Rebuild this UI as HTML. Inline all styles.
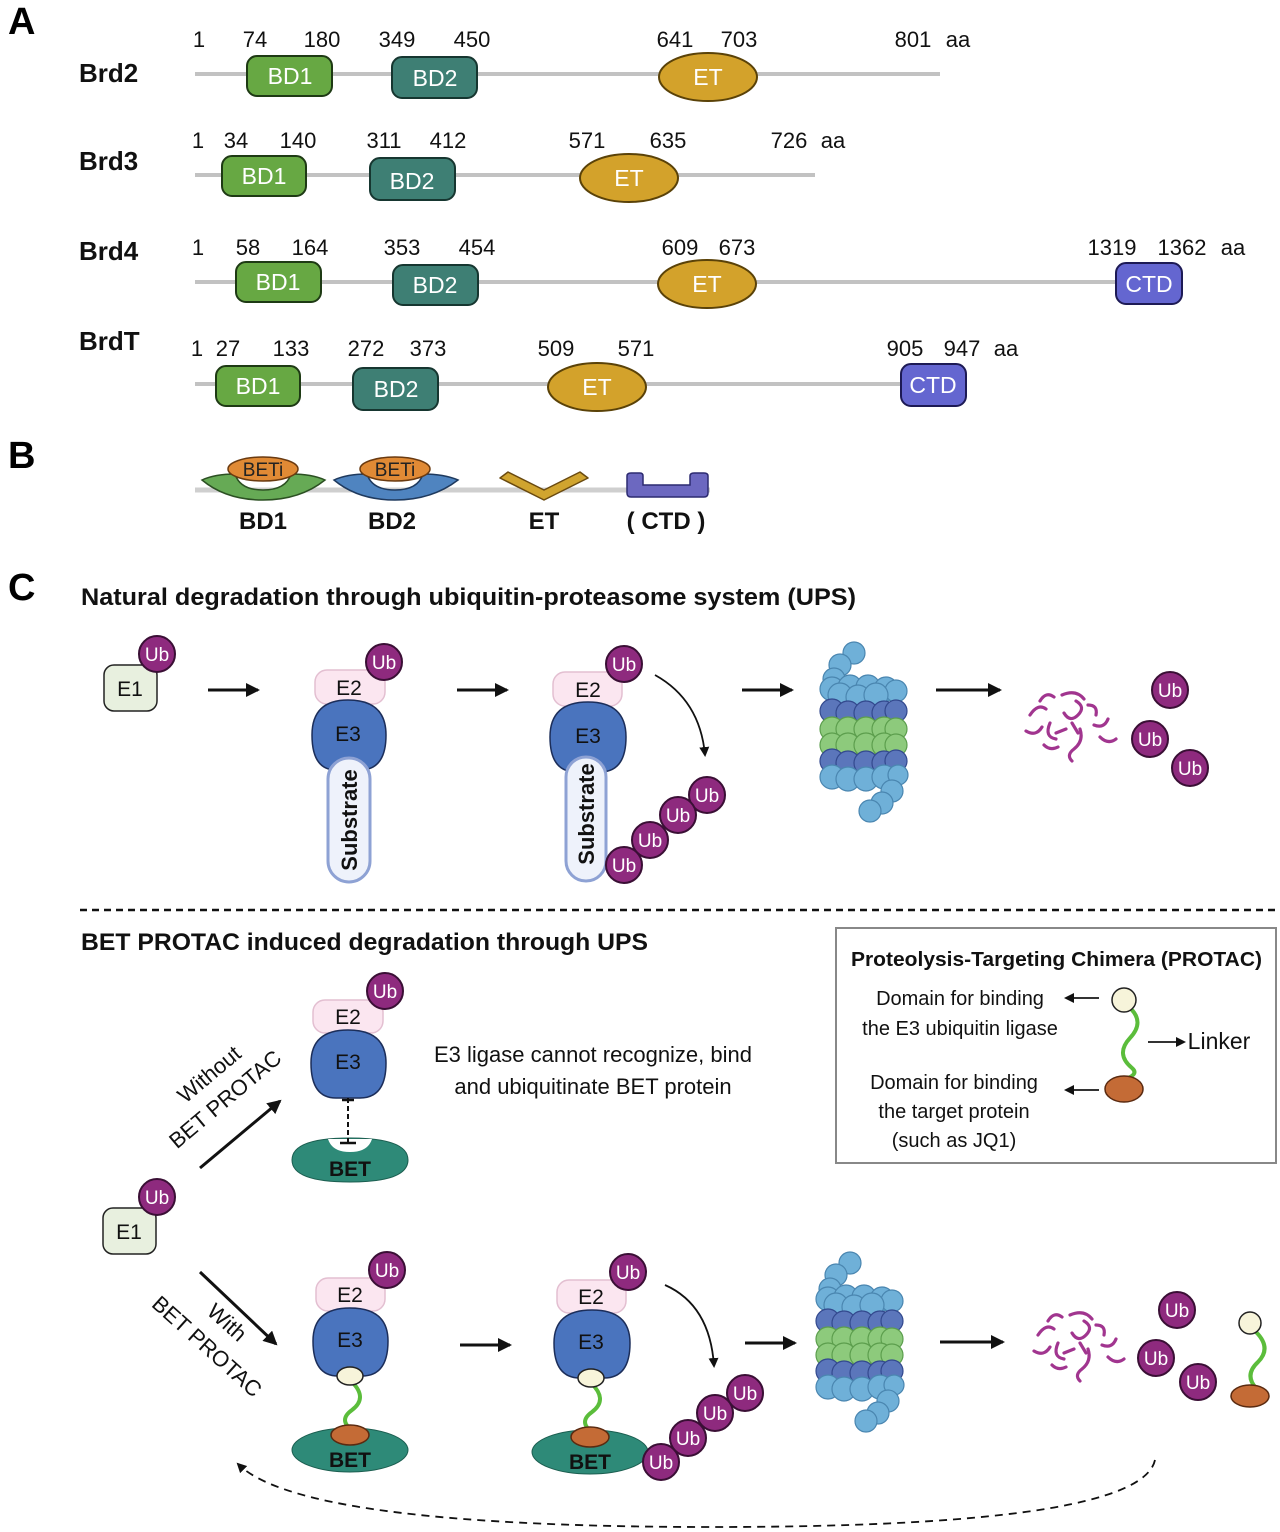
<!DOCTYPE html>
<html><head><meta charset="utf-8"><style>
html,body{margin:0;padding:0;background:#fff;}
svg{display:block;font-family:"Liberation Sans",Arial,sans-serif;}
.n{font-size:22px;fill:#111;}
.lab{font-size:26px;font-weight:bold;fill:#111;}
.dt{font-size:23px;fill:#fff;text-anchor:middle;}
.ub{font-size:19px;fill:#fff;text-anchor:middle;}
.e{font-size:21px;fill:#111;text-anchor:middle;}
</style></head><body>
<svg width="1280" height="1532" viewBox="0 0 1280 1532" xmlns="http://www.w3.org/2000/svg">
<defs>
<marker id="ah" markerWidth="10" markerHeight="10" refX="8" refY="5" orient="auto" markerUnits="userSpaceOnUse"><path d="M0,0 L10,5 L0,10 Z" fill="#111"/></marker>
<marker id="ah2" markerWidth="14" markerHeight="14" refX="12" refY="7" orient="auto" markerUnits="userSpaceOnUse"><path d="M0,0 L14,7 L0,14 Z" fill="#111"/></marker>
<g id="prot">
 <g fill="#6fb0d8" stroke="#4a86b0" stroke-width="1.2">
  <circle cx="-8" cy="10" r="11"/><circle cx="-22" cy="22" r="11"/><circle cx="-28" cy="36" r="11"/>
  <circle cx="-30" cy="46" r="12"/><circle cx="-12" cy="44" r="12"/><circle cx="6" cy="44" r="12"/><circle cx="24" cy="46" r="12"/><circle cx="34" cy="48" r="11"/>
  <circle cx="-22" cy="52" r="12"/><circle cx="-4" cy="54" r="12"/><circle cx="14" cy="52" r="12"/>
 </g>
 <g fill="#5b76bb" stroke="#33498e" stroke-width="1.2">
  <circle cx="-30" cy="68" r="12"/><circle cx="-14" cy="70" r="12"/><circle cx="4" cy="70" r="12"/><circle cx="22" cy="70" r="12"/><circle cx="34" cy="68" r="11"/>
 </g>
 <g fill="#8dca7c" stroke="#5c9e4d" stroke-width="1.2">
  <circle cx="-30" cy="86" r="12"/><circle cx="-14" cy="86" r="12"/><circle cx="4" cy="86" r="12"/><circle cx="22" cy="86" r="12"/><circle cx="34" cy="86" r="11"/>
  <circle cx="-30" cy="102" r="12"/><circle cx="-14" cy="102" r="12"/><circle cx="4" cy="102" r="12"/><circle cx="22" cy="102" r="12"/><circle cx="34" cy="102" r="11"/>
 </g>
 <g fill="#5b76bb" stroke="#33498e" stroke-width="1.2">
  <circle cx="-30" cy="118" r="12"/><circle cx="-14" cy="120" r="12"/><circle cx="4" cy="120" r="12"/><circle cx="22" cy="120" r="12"/><circle cx="34" cy="118" r="11"/>
 </g>
 <g fill="#6fb0d8" stroke="#4a86b0" stroke-width="1.2">
  <circle cx="-30" cy="134" r="12"/><circle cx="-14" cy="136" r="12"/><circle cx="4" cy="136" r="12"/><circle cx="22" cy="134" r="12"/><circle cx="36" cy="132" r="10"/>
  <circle cx="30" cy="148" r="11"/><circle cx="20" cy="160" r="11"/><circle cx="8" cy="168" r="11"/>
 </g>
</g>
<g id="frag" fill="none" stroke="#a1358f" stroke-width="3.2" stroke-linecap="round">
 <path d="M-40,-10 q8,-12 16,-6"/><path d="M-44,6 q10,6 16,-4"/><path d="M-30,-24 q6,-10 14,-4"/>
 <path d="M-20,-2 q-6,14 6,16"/><path d="M-8,-30 q14,-6 22,4"/><path d="M-6,-12 q6,10 14,2 q8,-8 -2,-14"/>
 <path d="M10,4 q4,12 -6,20 q-8,6 -2,12"/><path d="M18,-20 q10,0 8,10"/><path d="M24,0 q10,4 14,-6"/>
 <path d="M30,12 q8,8 16,2"/><path d="M-26,20 q6,6 14,2"/><path d="M2,-2 l6,10"/><path d="M-14,8 l10,-4"/>
</g>
</defs>

<text x="8" y="34" font-size="38" font-weight="bold">A</text>
<text x="8" y="468" font-size="38" font-weight="bold">B</text>
<text x="8" y="600" font-size="38" font-weight="bold">C</text>

<g stroke="#c2c2c2" stroke-width="4">
 <line x1="195" y1="74" x2="940" y2="74"/>
 <line x1="195" y1="175" x2="815" y2="175"/>
 <line x1="195" y1="282" x2="1182" y2="282"/>
 <line x1="195" y1="384" x2="905" y2="384"/>
</g>
<text class="lab" x="79" y="82">Brd2</text>
<text class="lab" x="79" y="170">Brd3</text>
<text class="lab" x="79" y="260">Brd4</text>
<text class="lab" x="79" y="350">BrdT</text>

<g class="n" text-anchor="middle">
 <text x="199" y="47">1</text><text x="255" y="47">74</text><text x="322" y="47">180</text><text x="397" y="47">349</text><text x="472" y="47">450</text><text x="675" y="47">641</text><text x="739" y="47">703</text><text x="913" y="47">801</text><text x="958" y="47">aa</text>
 <text x="198" y="148">1</text><text x="236" y="148">34</text><text x="298" y="148">140</text><text x="384" y="148">311</text><text x="448" y="148">412</text><text x="587" y="148">571</text><text x="668" y="148">635</text><text x="789" y="148">726</text><text x="833" y="148">aa</text>
 <text x="198" y="255">1</text><text x="248" y="255">58</text><text x="310" y="255">164</text><text x="402" y="255">353</text><text x="477" y="255">454</text><text x="680" y="255">609</text><text x="737" y="255">673</text><text x="1112" y="255">1319</text><text x="1182" y="255">1362</text><text x="1233" y="255">aa</text>
 <text x="197" y="356">1</text><text x="228" y="356">27</text><text x="291" y="356">133</text><text x="366" y="356">272</text><text x="428" y="356">373</text><text x="556" y="356">509</text><text x="636" y="356">571</text><text x="905" y="356">905</text><text x="962" y="356">947</text><text x="1006" y="356">aa</text>
</g>

<g stroke="#1e3a14" stroke-width="2">
 <rect x="247" y="56" width="85" height="40" rx="10" fill="#67a843"/>
 <rect x="222" y="156" width="84" height="40" rx="10" fill="#67a843"/>
 <rect x="236" y="262" width="85" height="40" rx="10" fill="#67a843"/>
 <rect x="216" y="366" width="84" height="40" rx="10" fill="#67a843"/>
</g>
<g stroke="#163630" stroke-width="2" fill="#3e7f74">
 <rect x="392" y="57" width="85" height="41" rx="10"/>
 <rect x="370" y="158" width="85" height="42" rx="10"/>
 <rect x="393" y="265" width="85" height="40" rx="10"/>
 <rect x="353" y="368" width="85" height="42" rx="10"/>
</g>
<g stroke="#5a4208" stroke-width="2" fill="#d3a22b">
 <ellipse cx="708" cy="77" rx="49" ry="24"/>
 <ellipse cx="629" cy="178" rx="49" ry="24"/>
 <ellipse cx="707" cy="284" rx="49" ry="24"/>
 <ellipse cx="597" cy="387" rx="49" ry="24"/>
</g>
<g stroke="#1d1a55" stroke-width="2" fill="#6466d0">
 <rect x="1116" y="263" width="66" height="41" rx="10"/>
 <rect x="901" y="364" width="65" height="42" rx="10"/>
</g>
<g class="dt">
 <text x="290" y="84">BD1</text><text x="435" y="86">BD2</text><text x="708" y="85">ET</text>
 <text x="264" y="184">BD1</text><text x="412" y="189">BD2</text><text x="629" y="186">ET</text>
 <text x="278" y="290">BD1</text><text x="435" y="293">BD2</text><text x="707" y="292">ET</text><text x="1149" y="292">CTD</text>
 <text x="258" y="394">BD1</text><text x="396" y="397">BD2</text><text x="597" y="395">ET</text><text x="933" y="393">CTD</text>
</g>

<line x1="195" y1="490" x2="710" y2="490" stroke="#cfcfcf" stroke-width="5"/>
<path d="M202,480 Q215,474 235,474 Q240,490 263,490 Q286,490 291,474 Q312,474 325,480 Q300,500 263,500 Q226,500 202,480 Z" fill="#66aa55" stroke="#2c5023" stroke-width="1.5"/>
<ellipse cx="263" cy="469" rx="35" ry="12" fill="#e08a35" stroke="#6a3a10" stroke-width="1.5"/>
<text x="263" y="476" font-size="19" text-anchor="middle" fill="#222">BETi</text>
<path d="M334,480 Q347,474 367,474 Q372,490 395,490 Q418,490 423,474 Q444,474 458,480 Q432,500 395,500 Q358,500 334,480 Z" fill="#4f84c0" stroke="#1f3a5e" stroke-width="1.5"/>
<ellipse cx="395" cy="469" rx="35" ry="12" fill="#e08a35" stroke="#6a3a10" stroke-width="1.5"/>
<text x="395" y="476" font-size="19" text-anchor="middle" fill="#222">BETi</text>
<path d="M500,478 L508,472 L544,490 L580,472 L588,478 L544,500 Z" fill="#d0a42f" stroke="#6a4a10" stroke-width="1.5" stroke-linejoin="round"/>
<path d="M627,476 Q627,473 631,473 L640,473 Q643,473 643,476 L643,485 L690,485 L690,476 Q690,473 694,473 L704,473 Q708,473 708,476 L708,493 Q708,497 704,497 L631,497 Q627,497 627,493 Z" fill="#6c68c0" stroke="#2c2a70" stroke-width="1.5"/>
<g font-size="24" font-weight="bold" text-anchor="middle" fill="#111">
 <text x="263" y="529">BD1</text><text x="392" y="529">BD2</text><text x="544" y="529">ET</text><text x="666" y="529">( CTD )</text>
</g>

<text x="81" y="605" font-size="24" font-weight="bold" fill="#111" textLength="775" lengthAdjust="spacingAndGlyphs">Natural degradation through ubiquitin-proteasome system (UPS)</text>
<rect x="104" y="665" width="53" height="46" rx="10" fill="#e8f0df" stroke="#222" stroke-width="1.5"/>
<text class="e" x="130" y="696">E1</text>
<circle cx="157" cy="654" r="18" fill="#8e2a7e" stroke="#3a0f35" stroke-width="2"/><text class="ub" x="157" y="661">Ub</text>
<g stroke="#111" stroke-width="3" marker-end="url(#ah2)">
 <line x1="208" y1="690" x2="258" y2="690"/><line x1="457" y1="690" x2="507" y2="690"/>
 <line x1="742" y1="690" x2="792" y2="690"/><line x1="936" y1="690" x2="1000" y2="690"/>
</g>
<rect x="315" y="670" width="70" height="34" rx="12" fill="#fbe6f0" stroke="#e3bfd1" stroke-width="1.5"/>
<text class="e" x="349" y="695">E2</text>
<path d="M312,735 Q312,700 348,700 Q386,700 386,735 Q386,770 360,770 L336,770 Q312,770 312,735 Z" fill="#4a74be" stroke="#1c2e5a" stroke-width="1.5"/>
<text class="e" x="348" y="741">E3</text>
<rect x="328" y="758" width="42" height="124" rx="21" fill="#eef2fb" stroke="#8ea2d4" stroke-width="3"/>
<text x="0" y="0" font-size="22" font-weight="bold" fill="#111" text-anchor="middle" transform="translate(357,820) rotate(-90)">Substrate</text>
<circle cx="384" cy="662" r="18" fill="#8e2a7e" stroke="#3a0f35" stroke-width="2"/><text class="ub" x="384" y="669">Ub</text>
<rect x="553" y="672" width="69" height="34" rx="12" fill="#fbe6f0" stroke="#e3bfd1" stroke-width="1.5"/>
<text class="e" x="588" y="697">E2</text>
<path d="M550,737 Q550,702 588,702 Q626,702 626,737 Q626,772 600,772 L576,772 Q550,772 550,737 Z" fill="#4a74be" stroke="#1c2e5a" stroke-width="1.5"/>
<text class="e" x="588" y="743">E3</text>
<rect x="566" y="757" width="40" height="124" rx="20" fill="#eef2fb" stroke="#8ea2d4" stroke-width="3"/>
<text x="0" y="0" font-size="22" font-weight="bold" fill="#111" text-anchor="middle" transform="translate(594,814) rotate(-90)">Substrate</text>
<circle cx="624" cy="664" r="18" fill="#8e2a7e" stroke="#3a0f35" stroke-width="2"/><text class="ub" x="624" y="671">Ub</text>
<path d="M655,675 Q700,700 705,755" fill="none" stroke="#111" stroke-width="1.8" marker-end="url(#ah)"/>
<g fill="#8e2a7e" stroke="#3a0f35" stroke-width="2">
 <circle cx="707" cy="795" r="18"/><circle cx="678" cy="815" r="18"/><circle cx="650" cy="840" r="18"/><circle cx="624" cy="865" r="18"/>
</g>
<g class="ub"><text x="707" y="802">Ub</text><text x="678" y="822">Ub</text><text x="650" y="847">Ub</text><text x="624" y="872">Ub</text></g>
<use href="#prot" x="862" y="643"/>
<use href="#frag" x="1070" y="725"/>
<g fill="#8e2a7e" stroke="#3a0f35" stroke-width="2">
 <circle cx="1170" cy="690" r="18"/><circle cx="1150" cy="739" r="18"/><circle cx="1190" cy="768" r="18"/>
</g>
<g class="ub"><text x="1170" y="697">Ub</text><text x="1150" y="746">Ub</text><text x="1190" y="775">Ub</text></g>

<line x1="80" y1="910" x2="1276" y2="910" stroke="#111" stroke-width="2.5" stroke-dasharray="7,5"/>

<text x="81" y="950" font-size="24" font-weight="bold" fill="#111" textLength="567" lengthAdjust="spacingAndGlyphs">BET PROTAC induced degradation through UPS</text>
<rect x="103" y="1208" width="53" height="46" rx="10" fill="#e8f0df" stroke="#222" stroke-width="1.5"/>
<text class="e" x="129" y="1239">E1</text>
<circle cx="157" cy="1197" r="18" fill="#8e2a7e" stroke="#3a0f35" stroke-width="2"/><text class="ub" x="157" y="1204">Ub</text>
<line x1="200" y1="1168" x2="280" y2="1101" stroke="#111" stroke-width="3" marker-end="url(#ah2)"/>
<line x1="200" y1="1272" x2="276" y2="1344" stroke="#111" stroke-width="3" marker-end="url(#ah2)"/>
<g font-size="22" fill="#111" text-anchor="middle">
 <text transform="translate(214,1080) rotate(-40)">Without</text>
 <text transform="translate(230,1105) rotate(-40)">BET PROTAC</text>
 <text transform="translate(222,1328) rotate(42)">With</text>
 <text transform="translate(202,1352) rotate(42)">BET PROTAC</text>
</g>
<rect x="313" y="1000" width="70" height="33" rx="12" fill="#fbe6f0" stroke="#e3bfd1" stroke-width="1.5"/>
<text class="e" x="348" y="1024">E2</text>
<path d="M311,1063 Q311,1030 348,1030 Q386,1030 386,1063 Q386,1098 360,1098 L336,1098 Q311,1098 311,1063 Z" fill="#4a74be" stroke="#1c2e5a" stroke-width="1.5"/>
<text class="e" x="348" y="1069">E3</text>
<circle cx="385" cy="991" r="18" fill="#8e2a7e" stroke="#3a0f35" stroke-width="2"/><text class="ub" x="385" y="998">Ub</text>
<path d="M292,1160 Q292,1138 350,1138 Q408,1138 408,1160 Q408,1182 350,1182 Q292,1182 292,1160 Z" fill="#2e8a78" stroke="#1b5e50" stroke-width="1"/>
<path d="M328,1139 Q332,1152 350,1152 Q368,1152 372,1139 Z" fill="#fff"/>
<text x="350" y="1176" font-size="21" font-weight="bold" text-anchor="middle" fill="#111">BET</text>
<line x1="348" y1="1098" x2="348" y2="1143" stroke="#111" stroke-width="2" stroke-dasharray="5,3"/>
<line x1="340" y1="1143" x2="356" y2="1143" stroke="#111" stroke-width="2.5"/>
<line x1="342" y1="1100" x2="354" y2="1100" stroke="#111" stroke-width="2.5"/>
<text x="593" y="1062" font-size="22" fill="#111" text-anchor="middle">E3 ligase cannot recognize, bind</text>
<text x="593" y="1094" font-size="22" fill="#111" text-anchor="middle">and ubiquitinate BET protein</text>

<rect x="836" y="928" width="440" height="235" fill="#fff" stroke="#888" stroke-width="2"/>
<text x="851" y="966" font-size="20" font-weight="bold" fill="#111" textLength="411" lengthAdjust="spacingAndGlyphs">Proteolysis-Targeting Chimera (PROTAC)</text>
<g font-size="20" fill="#111" text-anchor="middle">
 <text x="960" y="1005">Domain for binding</text>
 <text x="960" y="1035">the E3 ubiquitin ligase</text>
 <text x="954" y="1089">Domain for binding</text>
 <text x="954" y="1118">the target protein</text>
 <text x="954" y="1147">(such as JQ1)</text>
 <text x="1219" y="1049" font-size="23">Linker</text>
</g>
<g stroke="#333" stroke-width="2" marker-end="url(#ah)">
 <line x1="1099" y1="998" x2="1066" y2="998"/>
 <line x1="1099" y1="1090" x2="1066" y2="1090"/>
 <line x1="1148" y1="1042" x2="1184" y2="1042"/>
</g>
<path d="M1130,1008 Q1145,1022 1130,1038 Q1115,1054 1132,1068 Q1140,1075 1122,1080" fill="none" stroke="#5bbd3b" stroke-width="4"/>
<circle cx="1124" cy="1000" r="12" fill="#f7f4da" stroke="#222" stroke-width="1.5"/>
<ellipse cx="1124" cy="1089" rx="19" ry="13" fill="#c46b36" stroke="#5a2a10" stroke-width="1.5"/>

<rect x="316" y="1278" width="69" height="33" rx="12" fill="#fbe6f0" stroke="#e3bfd1" stroke-width="1.5"/>
<text class="e" x="350" y="1302">E2</text>
<path d="M313,1341 Q313,1308 350,1308 Q388,1308 388,1341 Q388,1376 362,1376 L338,1376 Q313,1376 313,1341 Z" fill="#4a74be" stroke="#1c2e5a" stroke-width="1.5"/>
<text class="e" x="350" y="1347">E3</text>
<circle cx="387" cy="1270" r="18" fill="#8e2a7e" stroke="#3a0f35" stroke-width="2"/><text class="ub" x="387" y="1277">Ub</text>
<ellipse cx="350" cy="1450" rx="58" ry="22" fill="#2e8a78" stroke="#1b5e50"/>
<path d="M352,1382 Q368,1398 352,1410 Q338,1420 352,1430" fill="none" stroke="#5bbd3b" stroke-width="4"/>
<ellipse cx="350" cy="1376" rx="13" ry="9" fill="#f7f4da" stroke="#222" stroke-width="1.5"/>
<ellipse cx="350" cy="1435" rx="19" ry="10" fill="#c46b36" stroke="#5a2a10" stroke-width="1.5"/>
<text x="350" y="1467" font-size="21" font-weight="bold" text-anchor="middle" fill="#111">BET</text>
<line x1="460" y1="1345" x2="510" y2="1345" stroke="#111" stroke-width="3" marker-end="url(#ah2)"/>
<rect x="557" y="1280" width="69" height="33" rx="12" fill="#fbe6f0" stroke="#e3bfd1" stroke-width="1.5"/>
<text class="e" x="591" y="1304">E2</text>
<path d="M554,1343 Q554,1310 592,1310 Q630,1310 630,1343 Q630,1378 604,1378 L580,1378 Q554,1378 554,1343 Z" fill="#4a74be" stroke="#1c2e5a" stroke-width="1.5"/>
<text class="e" x="591" y="1349">E3</text>
<circle cx="628" cy="1272" r="18" fill="#8e2a7e" stroke="#3a0f35" stroke-width="2"/><text class="ub" x="628" y="1279">Ub</text>
<ellipse cx="590" cy="1452" rx="58" ry="22" fill="#2e8a78" stroke="#1b5e50"/>
<path d="M592,1384 Q608,1400 592,1412 Q578,1422 592,1432" fill="none" stroke="#5bbd3b" stroke-width="4"/>
<ellipse cx="591" cy="1378" rx="13" ry="9" fill="#f7f4da" stroke="#222" stroke-width="1.5"/>
<ellipse cx="590" cy="1437" rx="19" ry="10" fill="#c46b36" stroke="#5a2a10" stroke-width="1.5"/>
<text x="590" y="1469" font-size="21" font-weight="bold" text-anchor="middle" fill="#111">BET</text>
<path d="M665,1285 Q710,1305 714,1366" fill="none" stroke="#111" stroke-width="1.8" marker-end="url(#ah)"/>
<g fill="#8e2a7e" stroke="#3a0f35" stroke-width="2">
 <circle cx="745" cy="1393" r="18"/><circle cx="715" cy="1413" r="18"/><circle cx="688" cy="1438" r="18"/><circle cx="661" cy="1462" r="18"/>
</g>
<g class="ub"><text x="745" y="1400">Ub</text><text x="715" y="1420">Ub</text><text x="688" y="1445">Ub</text><text x="661" y="1469">Ub</text></g>
<line x1="745" y1="1343" x2="795" y2="1343" stroke="#111" stroke-width="3" marker-end="url(#ah2)"/>
<use href="#prot" x="858" y="1253"/>
<line x1="940" y1="1342" x2="1003" y2="1342" stroke="#111" stroke-width="3" marker-end="url(#ah2)"/>
<use href="#frag" x="1078" y="1345"/>
<g fill="#8e2a7e" stroke="#3a0f35" stroke-width="2">
 <circle cx="1177" cy="1310" r="18"/><circle cx="1156" cy="1358" r="18"/><circle cx="1198" cy="1382" r="18"/>
</g>
<g class="ub"><text x="1177" y="1317">Ub</text><text x="1156" y="1365">Ub</text><text x="1198" y="1389">Ub</text></g>
<path d="M1256,1332 Q1272,1348 1258,1362 Q1244,1375 1256,1388" fill="none" stroke="#5bbd3b" stroke-width="4"/>
<circle cx="1250" cy="1323" r="11" fill="#f7f4da" stroke="#222" stroke-width="1.5"/>
<ellipse cx="1250" cy="1396" rx="19" ry="11" fill="#c46b36" stroke="#5a2a10" stroke-width="1.5"/>

<path d="M1155,1460 Q1140,1528 700,1527 Q300,1526 238,1464" fill="none" stroke="#111" stroke-width="1.8" stroke-dasharray="8,6" marker-end="url(#ah)"/>
</svg>
</body></html>
